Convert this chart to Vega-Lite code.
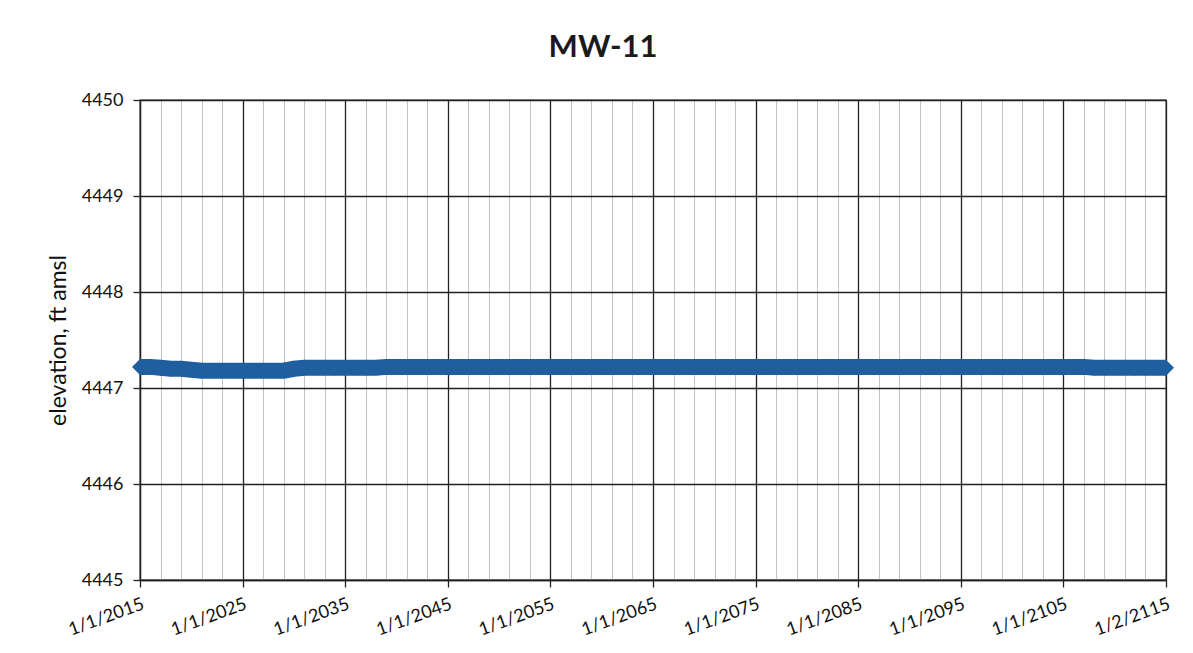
{
  "$schema": "https://vega.github.io/schema/vega-lite/v6.json",
  "width": 1026,
  "height": 480,
  "autosize": {"type": "none"},
  "padding": {"left": 140, "top": 100, "right": 27, "bottom": 73},
  "background": "white",
  "config": {
    "font": "Lato",
    "view": {"stroke": "#222", "strokeWidth": 1.3},
    "axis": {"labelFont": "Lato", "titleFont": "Lato", "labelColor": "#111", "titleColor": "#111", "labelFontSize": 18, "titleFontSize": 23, "titleFontWeight": "normal"}
  },
  "title": {
    "text": "MW-11",
    "fontSize": 31,
    "fontWeight": "bold",
    "font": "Lato",
    "color": "#1a1a1a",
    "anchor": "middle",
    "dx": -50,
    "offset": 27
  },
  "data": {
    "values": [
      {"date": "2015-01-01", "elev": 4447.22},
      {"date": "2016-01-01", "elev": 4447.22},
      {"date": "2017-01-01", "elev": 4447.21},
      {"date": "2018-01-01", "elev": 4447.20},
      {"date": "2019-01-01", "elev": 4447.20},
      {"date": "2020-01-01", "elev": 4447.19},
      {"date": "2021-01-01", "elev": 4447.18},
      {"date": "2022-01-01", "elev": 4447.18},
      {"date": "2023-01-01", "elev": 4447.18},
      {"date": "2024-01-01", "elev": 4447.18},
      {"date": "2025-01-01", "elev": 4447.18},
      {"date": "2026-01-01", "elev": 4447.18},
      {"date": "2027-01-01", "elev": 4447.18},
      {"date": "2028-01-01", "elev": 4447.18},
      {"date": "2029-01-01", "elev": 4447.18},
      {"date": "2030-01-01", "elev": 4447.20},
      {"date": "2031-01-01", "elev": 4447.21},
      {"date": "2032-01-01", "elev": 4447.21},
      {"date": "2033-01-01", "elev": 4447.21},
      {"date": "2034-01-01", "elev": 4447.21},
      {"date": "2035-01-01", "elev": 4447.21},
      {"date": "2036-01-01", "elev": 4447.21},
      {"date": "2037-01-01", "elev": 4447.21},
      {"date": "2038-01-01", "elev": 4447.21},
      {"date": "2039-01-01", "elev": 4447.22},
      {"date": "2040-01-01", "elev": 4447.22},
      {"date": "2041-01-01", "elev": 4447.22},
      {"date": "2042-01-01", "elev": 4447.22},
      {"date": "2043-01-01", "elev": 4447.22},
      {"date": "2044-01-01", "elev": 4447.22},
      {"date": "2045-01-01", "elev": 4447.22},
      {"date": "2046-01-01", "elev": 4447.22},
      {"date": "2047-01-01", "elev": 4447.22},
      {"date": "2048-01-01", "elev": 4447.22},
      {"date": "2049-01-01", "elev": 4447.22},
      {"date": "2050-01-01", "elev": 4447.22},
      {"date": "2051-01-01", "elev": 4447.22},
      {"date": "2052-01-01", "elev": 4447.22},
      {"date": "2053-01-01", "elev": 4447.22},
      {"date": "2054-01-01", "elev": 4447.22},
      {"date": "2055-01-01", "elev": 4447.22},
      {"date": "2056-01-01", "elev": 4447.22},
      {"date": "2057-01-01", "elev": 4447.22},
      {"date": "2058-01-01", "elev": 4447.22},
      {"date": "2059-01-01", "elev": 4447.22},
      {"date": "2060-01-01", "elev": 4447.22},
      {"date": "2061-01-01", "elev": 4447.22},
      {"date": "2062-01-01", "elev": 4447.22},
      {"date": "2063-01-01", "elev": 4447.22},
      {"date": "2064-01-01", "elev": 4447.22},
      {"date": "2065-01-01", "elev": 4447.22},
      {"date": "2066-01-01", "elev": 4447.22},
      {"date": "2067-01-01", "elev": 4447.22},
      {"date": "2068-01-01", "elev": 4447.22},
      {"date": "2069-01-01", "elev": 4447.22},
      {"date": "2070-01-01", "elev": 4447.22},
      {"date": "2071-01-01", "elev": 4447.22},
      {"date": "2072-01-01", "elev": 4447.22},
      {"date": "2073-01-01", "elev": 4447.22},
      {"date": "2074-01-01", "elev": 4447.22},
      {"date": "2075-01-01", "elev": 4447.22},
      {"date": "2076-01-01", "elev": 4447.22},
      {"date": "2077-01-01", "elev": 4447.22},
      {"date": "2078-01-01", "elev": 4447.22},
      {"date": "2079-01-01", "elev": 4447.22},
      {"date": "2080-01-01", "elev": 4447.22},
      {"date": "2081-01-01", "elev": 4447.22},
      {"date": "2082-01-01", "elev": 4447.22},
      {"date": "2083-01-01", "elev": 4447.22},
      {"date": "2084-01-01", "elev": 4447.22},
      {"date": "2085-01-01", "elev": 4447.22},
      {"date": "2086-01-01", "elev": 4447.22},
      {"date": "2087-01-01", "elev": 4447.22},
      {"date": "2088-01-01", "elev": 4447.22},
      {"date": "2089-01-01", "elev": 4447.22},
      {"date": "2090-01-01", "elev": 4447.22},
      {"date": "2091-01-01", "elev": 4447.22},
      {"date": "2092-01-01", "elev": 4447.22},
      {"date": "2093-01-01", "elev": 4447.22},
      {"date": "2094-01-01", "elev": 4447.22},
      {"date": "2095-01-01", "elev": 4447.22},
      {"date": "2096-01-01", "elev": 4447.22},
      {"date": "2097-01-01", "elev": 4447.22},
      {"date": "2098-01-01", "elev": 4447.22},
      {"date": "2099-01-01", "elev": 4447.22},
      {"date": "2100-01-01", "elev": 4447.22},
      {"date": "2101-01-01", "elev": 4447.22},
      {"date": "2102-01-01", "elev": 4447.22},
      {"date": "2103-01-01", "elev": 4447.22},
      {"date": "2104-01-01", "elev": 4447.22},
      {"date": "2105-01-01", "elev": 4447.22},
      {"date": "2106-01-01", "elev": 4447.22},
      {"date": "2107-01-01", "elev": 4447.22},
      {"date": "2108-01-01", "elev": 4447.21},
      {"date": "2109-01-01", "elev": 4447.21},
      {"date": "2110-01-01", "elev": 4447.21},
      {"date": "2111-01-01", "elev": 4447.21},
      {"date": "2112-01-01", "elev": 4447.21},
      {"date": "2113-01-01", "elev": 4447.21},
      {"date": "2114-01-01", "elev": 4447.21},
      {"date": "2115-01-02", "elev": 4447.21}
    ]
  },
  "resolve": {"axis": {"x": "independent"}},
  "layer": [
    {
      "mark": {"type": "line", "opacity": 0},
      "encoding": {
        "x": {
          "field": "date", "type": "temporal",
          "scale": {"type": "utc", "domain": [{"year": 2015, "month": 1, "date": 1, "utc": true}, {"year": 2115, "month": 1, "date": 2, "utc": true}]},
          "axis": {
            "orient": "top", "title": null, "labels": false, "ticks": false, "domain": false,
            "grid": true, "gridColor": "#c2c2c2", "gridWidth": 1,
            "values": [
              {"year": 2017, "month": 1, "date": 1, "utc": true},
              {"year": 2019, "month": 1, "date": 1, "utc": true},
              {"year": 2021, "month": 1, "date": 1, "utc": true},
              {"year": 2023, "month": 1, "date": 1, "utc": true},
              {"year": 2027, "month": 1, "date": 1, "utc": true},
              {"year": 2029, "month": 1, "date": 1, "utc": true},
              {"year": 2031, "month": 1, "date": 1, "utc": true},
              {"year": 2033, "month": 1, "date": 1, "utc": true},
              {"year": 2037, "month": 1, "date": 1, "utc": true},
              {"year": 2039, "month": 1, "date": 1, "utc": true},
              {"year": 2041, "month": 1, "date": 1, "utc": true},
              {"year": 2043, "month": 1, "date": 1, "utc": true},
              {"year": 2047, "month": 1, "date": 1, "utc": true},
              {"year": 2049, "month": 1, "date": 1, "utc": true},
              {"year": 2051, "month": 1, "date": 1, "utc": true},
              {"year": 2053, "month": 1, "date": 1, "utc": true},
              {"year": 2057, "month": 1, "date": 1, "utc": true},
              {"year": 2059, "month": 1, "date": 1, "utc": true},
              {"year": 2061, "month": 1, "date": 1, "utc": true},
              {"year": 2063, "month": 1, "date": 1, "utc": true},
              {"year": 2067, "month": 1, "date": 1, "utc": true},
              {"year": 2069, "month": 1, "date": 1, "utc": true},
              {"year": 2071, "month": 1, "date": 1, "utc": true},
              {"year": 2073, "month": 1, "date": 1, "utc": true},
              {"year": 2077, "month": 1, "date": 1, "utc": true},
              {"year": 2079, "month": 1, "date": 1, "utc": true},
              {"year": 2081, "month": 1, "date": 1, "utc": true},
              {"year": 2083, "month": 1, "date": 1, "utc": true},
              {"year": 2087, "month": 1, "date": 1, "utc": true},
              {"year": 2089, "month": 1, "date": 1, "utc": true},
              {"year": 2091, "month": 1, "date": 1, "utc": true},
              {"year": 2093, "month": 1, "date": 1, "utc": true},
              {"year": 2097, "month": 1, "date": 1, "utc": true},
              {"year": 2099, "month": 1, "date": 1, "utc": true},
              {"year": 2101, "month": 1, "date": 1, "utc": true},
              {"year": 2103, "month": 1, "date": 1, "utc": true},
              {"year": 2107, "month": 1, "date": 1, "utc": true},
              {"year": 2109, "month": 1, "date": 1, "utc": true},
              {"year": 2111, "month": 1, "date": 1, "utc": true},
              {"year": 2113, "month": 1, "date": 1, "utc": true}
            ]
          }
        },
        "y": {
          "field": "elev", "type": "quantitative",
          "scale": {"domain": [4445, 4450], "nice": false, "zero": false},
          "axis": {
            "title": "elevation, ft amsl", "titleFontSize": 23, "titleFontWeight": "normal", "titlePadding": 11,
            "values": [4445, 4446, 4447, 4448, 4449, 4450], "format": "d",
            "labelFontSize": 18, "labelPadding": 10,
            "tickSize": 7, "tickColor": "#222", "tickWidth": 1.3,
            "domainColor": "#222", "domainWidth": 1.3,
            "grid": true, "gridColor": "#222", "gridWidth": 1.3
          }
        }
      }
    },
    {
      "mark": {
        "type": "line", "color": "#1F5FA0", "strokeWidth": 16, "strokeCap": "butt", "clip": false,
        "point": {"shape": "diamond", "filled": true, "color": "#1F5FA0", "size": 256, "opacity": 1}
      },
      "encoding": {
        "x": {
          "field": "date", "type": "temporal",
          "axis": {
            "orient": "bottom", "title": null,
            "format": "%-m/%-d/%Y",
            "labelAngle": -20, "labelFontSize": 18, "labelPadding": 8,
            "tickSize": 7, "tickColor": "#222", "tickWidth": 1.3,
            "domainColor": "#222", "domainWidth": 1.3,
            "grid": true, "gridColor": "#222", "gridWidth": 1.3,
            "labelOverlap": false, "labelBound": false, "labelFlush": false,
            "values": [
              {"year": 2015, "month": 1, "date": 1, "utc": true},
              {"year": 2025, "month": 1, "date": 1, "utc": true},
              {"year": 2035, "month": 1, "date": 1, "utc": true},
              {"year": 2045, "month": 1, "date": 1, "utc": true},
              {"year": 2055, "month": 1, "date": 1, "utc": true},
              {"year": 2065, "month": 1, "date": 1, "utc": true},
              {"year": 2075, "month": 1, "date": 1, "utc": true},
              {"year": 2085, "month": 1, "date": 1, "utc": true},
              {"year": 2095, "month": 1, "date": 1, "utc": true},
              {"year": 2105, "month": 1, "date": 1, "utc": true},
              {"year": 2115, "month": 1, "date": 2, "utc": true}
            ]
          }
        },
        "y": {
          "field": "elev", "type": "quantitative",
          "axis": {
            "title": "elevation, ft amsl", "titleFontSize": 23, "titleFontWeight": "normal", "titlePadding": 11,
            "values": [4445, 4446, 4447, 4448, 4449, 4450], "format": "d",
            "labelFontSize": 18, "labelPadding": 10,
            "tickSize": 7, "tickColor": "#222", "tickWidth": 1.3,
            "domainColor": "#222", "domainWidth": 1.3,
            "grid": true, "gridColor": "#222", "gridWidth": 1.3
          }
        }
      }
    }
  ]
}
